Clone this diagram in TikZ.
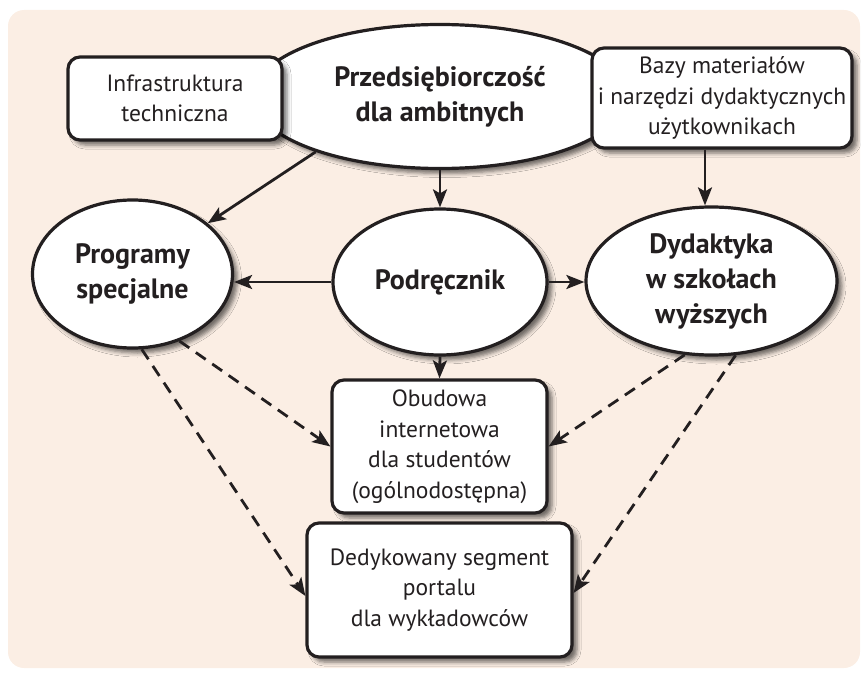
\documentclass[tikz,border=0pt]{standalone}
\usepackage{fontspec}
\setmainfont{PT Sans}
\usetikzlibrary{shapes.geometric,arrows.meta,shadows.blur}
\definecolor{panel}{RGB}{251,238,228}
\definecolor{ink}{RGB}{35,31,32}
\begin{document}
\begin{tikzpicture}[x=1pt,y=-1pt,
        every node/.style={text=ink,align=center},
        cien/.style={blur shadow={shadow xshift=5pt,shadow yshift=-5pt,shadow blur radius=4pt,shadow opacity=55}},
        owal/.style={ellipse,draw=ink,line width=3.2pt,fill=white,inner sep=0pt,cien,font=\fontsize{28}{35}\selectfont\bfseries},
        ramka/.style={rectangle,rounded corners=12pt,draw=ink,line width=3.2pt,fill=white,inner sep=0pt,cien,font=\fontsize{23.5}{30.5}\selectfont},
        strz/.style={draw=ink,line width=2.8pt,-{Stealth[length=18pt,width=14pt,inset=4pt]}},
        przer/.style={strz,dash pattern=on 12pt off 8pt}]
        \useasboundingbox (0,0) rectangle (862,674);
        \fill [panel,rounded corners=16pt] (8,10) rectangle (860,668);

        \node [owal,minimum width=374pt,minimum height=144pt] (przed) at (440,96.5) {Przedsiębiorczość\\dla ambitnych};
        \node [ramka,minimum width=214pt,minimum height=83pt] (infra) at (175,98.5) {Infrastruktura\\techniczna};
        \node [ramka,minimum width=260pt,minimum height=100pt] (bazy) at (722,98) {Bazy materiałów\\i narzędzi dydaktycznych\\użytkownikach};

        \node [owal,minimum width=200pt,minimum height=148pt] (prog) at (132.5,274) {Programy\\specjalne};
        \node [owal,minimum width=214pt,minimum height=146pt] (podr) at (440,282) {Podręcznik};
        \node [owal,minimum width=251pt,minimum height=148pt] (dyd) at (711.5,281) {Dydaktyka\\w szkołach\\wyższych};

        \node [ramka,minimum width=215pt,minimum height=133pt] (obud) at (439.5,446.5) {Obudowa\\internetowa\\dla studentów\\(ogólnodostępna)};
        \node [ramka,minimum width=265pt,minimum height=134pt] (dedyk) at (439.5,590) {Dedykowany segment\\portalu\\dla wykładowców};

        \draw [strz] (przed.204) -- (prog.34);
        \draw [strz] (przed.south) -- (podr.north);
        \draw [strz] ([xshift=-17pt]bazy.south) -- ([xshift=-17pt]bazy.south |- dyd.north);
        \draw [strz] (podr.west) -- (podr.west -| prog.east);
        \draw [strz] (podr.east) -- (podr.east -| dyd.west);
        \draw [strz] (podr.south) -- (obud.north);

        \draw [przer] (prog.305) -- (obud.west);
        \draw [przer] (prog.277) -- ([yshift=-6pt]dedyk.west);
        \draw [przer] (dyd.250) -- (obud.east);
        \draw [przer] (dyd.288) -- ([yshift=-3pt]dedyk.east);
    \end{tikzpicture}
\end{document}
